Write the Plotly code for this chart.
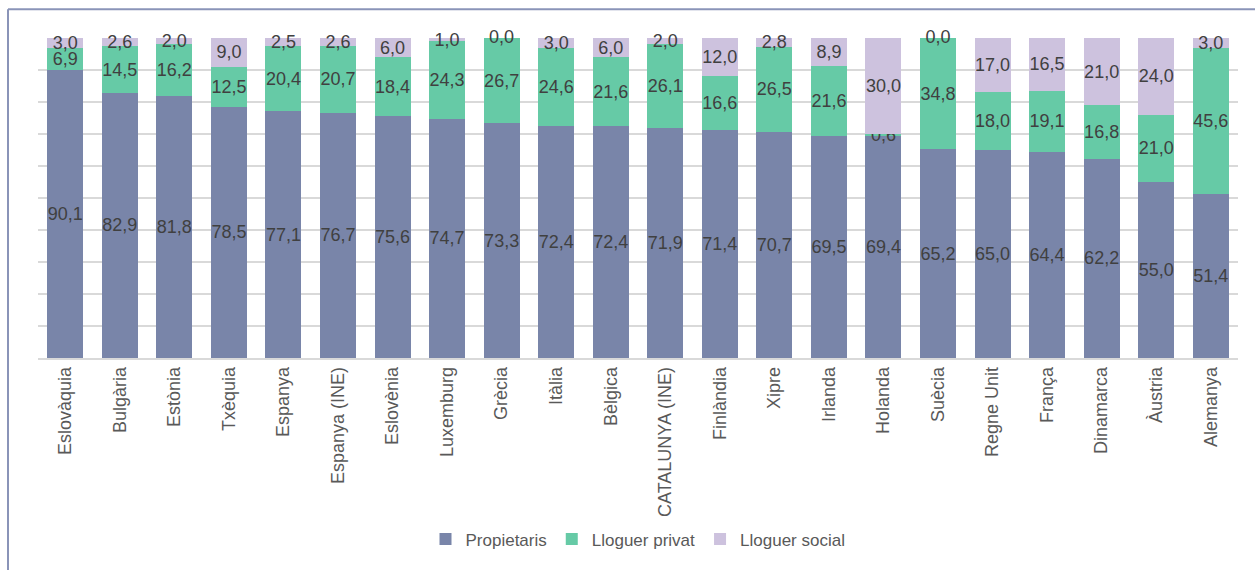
import plotly.graph_objects as go

categories = ["Eslovàquia", "Bulgària", "Estònia", "Txèquia", "Espanya", "Espanya (INE)",
              "Eslovènia", "Luxemburg", "Grècia", "Itàlia", "Bèlgica", "CATALUNYA (INE)",
              "Finlàndia", "Xipre", "Irlanda", "Holanda", "Suècia", "Regne Unit", "França",
              "Dinamarca", "Àustria", "Alemanya"]
propietaris = [90.1, 82.9, 81.8, 78.5, 77.1, 76.7, 75.6, 74.7, 73.3, 72.4, 72.4, 71.9,
               71.4, 70.7, 69.5, 69.4, 65.2, 65.0, 64.4, 62.2, 55.0, 51.4]
lloguer_privat = [6.9, 14.5, 16.2, 12.5, 20.4, 20.7, 18.4, 24.3, 26.7, 24.6, 21.6, 26.1,
                  16.6, 26.5, 21.6, 0.6, 34.8, 18.0, 19.1, 16.8, 21.0, 45.6]
lloguer_social = [3.0, 2.6, 2.0, 9.0, 2.5, 2.6, 6.0, 1.0, 0.0, 3.0, 6.0, 2.0,
                  12.0, 2.8, 8.9, 30.0, 0.0, 17.0, 16.5, 21.0, 24.0, 3.0]

series = [("Propietaris", propietaris, "#7985a9"),
          ("Lloguer privat", lloguer_privat, "#66caa6"),
          ("Lloguer social", lloguer_social, "#cdc2de")]

LABEL_FONT = dict(family="Liberation Sans, Arial, sans-serif", size=18, color="#404040")

def fmt(v):
    return f"{v:.1f}".replace(".", ",")

fig = go.Figure()
for name, vals, col in series:
    fig.add_trace(go.Bar(
        x=categories, y=vals, name=name, marker_color=col, marker_line_width=0,
        text=[fmt(v) if v != 0 else "" for v in vals],
        textposition="inside", insidetextanchor="middle", constraintext="none",
        textangle=0, textfont=LABEL_FONT, cliponaxis=False,
    ))

# labels for zero-height top segments (drawn at the top of the stack)
totals = [a + b + c for a, b, c in zip(propietaris, lloguer_privat, lloguer_social)]
zx = [c for c, v in zip(categories, lloguer_social) if v == 0]
zy = [t for t, v in zip(totals, lloguer_social) if v == 0]
fig.add_trace(go.Scatter(
    x=zx, y=zy, mode="text", text=[fmt(0.0)] * len(zx), textposition="middle center",
    textfont=LABEL_FONT, showlegend=False, hoverinfo="skip", cliponaxis=False,
))

fig.update_layout(
    barmode="stack", bargap=0.34,
    width=1255, height=570,
    margin=dict(l=38, r=17, t=38, b=206),
    paper_bgcolor="white", plot_bgcolor="white",
    font=dict(family="Liberation Sans, Arial, sans-serif", color="#595959"),
    showlegend=True,
    legend=dict(orientation="h", x=0.5, xanchor="center", y=-0.567, yanchor="middle",
                font=dict(size=17, color="#595959"), traceorder="normal",
                itemwidth=30),
    xaxis=dict(tickangle=-90, tickfont=dict(size=18, color="#595959"), showgrid=False,
               showline=True, linecolor="#d9d9d9", linewidth=1.5, ticks="",
               automargin=False),
    yaxis=dict(range=[0, 100], dtick=10, showticklabels=False, gridcolor="#d9d9d9",
               gridwidth=1.5, zeroline=False, fixedrange=True, automargin=False),
    shapes=[
        dict(type="line", xref="paper", yref="paper", x0=-0.025, x1=1.05,
             y0=1.0898, y1=1.0898, line=dict(color="#8a94b8", width=2)),
        dict(type="line", xref="paper", yref="paper", x0=-0.025, x1=-0.025,
             y0=1.0898, y1=-0.7, line=dict(color="#8a94b8", width=2)),
    ],
)

fig.write_html("out.html")
